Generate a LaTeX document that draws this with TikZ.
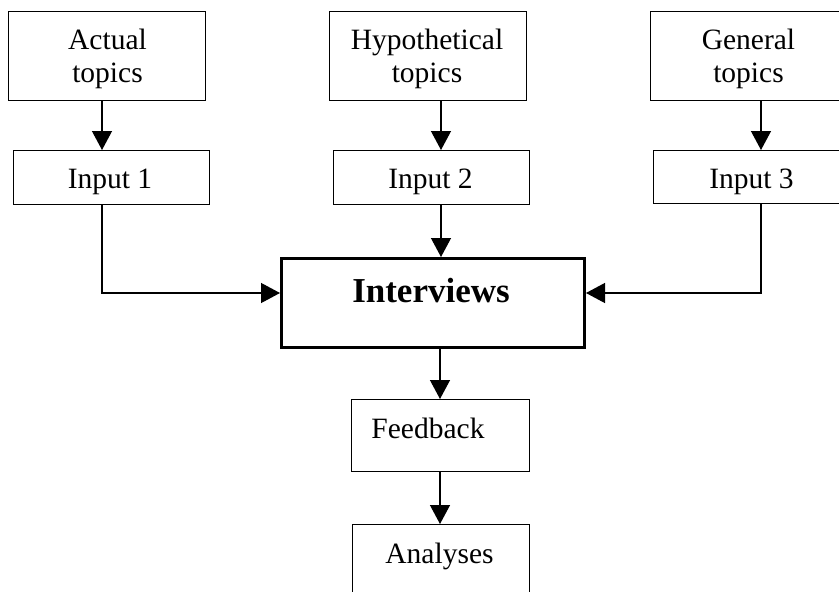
\documentclass[tikz,border=0pt]{standalone}
\usepackage{fontspec}
\setmainfont{Liberation Serif}
\usetikzlibrary{arrows.meta}
\begin{document}
\begin{tikzpicture}[x=1pt,y=-1pt,
  box/.style={draw,line width=1.3pt,inner sep=0pt,anchor=north west},
  bigbox/.style={draw,line width=3pt,inner sep=0pt,anchor=north west},
  lbl/.style={anchor=base,inner sep=0pt,align=center,
    font=\fontsize{29.5}{33}\selectfont},
  boldlbl/.style={anchor=base,inner sep=0pt,
    font=\fontsize{35}{40}\selectfont\bfseries},
  arr/.style={line width=1.3pt,-{Triangle[length=19pt,width=20pt]}}]
\clip (0,0) rectangle (839,592);

% topic boxes
\node[box,minimum width=197,minimum height=89] (act) at (8,11) {};
\node[box,minimum width=197,minimum height=89] (hyp) at (329,11) {};
\node[box,minimum width=197,minimum height=89] (gen) at (650,11) {};
% input boxes
\node[box,minimum width=196,minimum height=54] (in1) at (13,150) {};
\node[box,minimum width=196,minimum height=54] (in2) at (333,150) {};
\node[box,minimum width=197,minimum height=53] (in3) at (653,150) {};
% central and lower boxes
\node[bigbox,minimum width=303,minimum height=89] (int) at (280,257) {};
\node[box,minimum width=178,minimum height=72] (fb) at (351,399) {};
\node[box,minimum width=177,minimum height=90] (an) at (352,524) {};

% labels (two-line labels sit on the baseline of their last line)
\node[lbl] (tact) at (107.5,82) {Actual\\topics};
\node[lbl] (thyp) at (427,82) {Hypothetical\\topics};
\node[lbl] (tgen) at (748.5,82) {General\\topics};
\node[lbl] (tin1) at (110,188) {Input 1};
\node[lbl] (tin2) at (430.5,188) {Input 2};
\node[lbl] (tin3) at (751.5,188) {Input 3};
\node[boldlbl] (tint) at (431,302) {Interviews};
\node[lbl] (tfb) at (428,438) {Feedback};
\node[lbl] (tan) at (439.5,563) {Analyses};

% connector guide lines
\coordinate (xa) at (102,0);
\coordinate (xb) at (441,0);
\coordinate (xc) at (761,0);
\coordinate (xd) at (440,0);
\coordinate (yr) at (0,293);

% connectors
\draw[arr] (act.south -| xa) -- (in1.north -| xa);
\draw[arr] (hyp.south -| xb) -- (in2.north -| xb);
\draw[arr] (gen.south -| xc) -- (in3.north -| xc);
\draw[arr] (in1.south -| xa) |- (int.west |- yr);
\draw[arr] (in2.south -| xb) -- (int.north -| xb);
\draw[arr] (in3.south -| xc) |- (int.east |- yr);
\draw[arr] (int.south -| xd) -- (fb.north -| xd);
\draw[arr] (fb.south -| xd) -- (an.north -| xd);
\end{tikzpicture}
\end{document}
